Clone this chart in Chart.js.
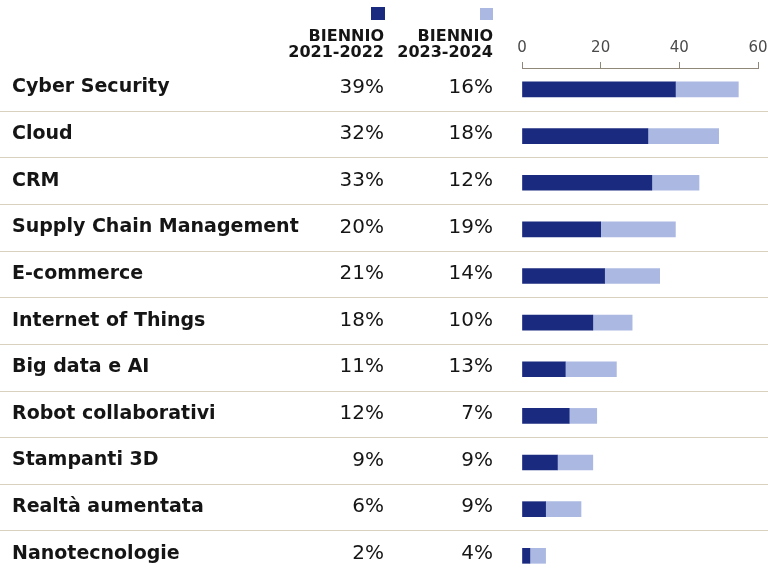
<!DOCTYPE html>
<html lang="it">
  <head>
    <meta charset="UTF-8" />
    <title>Tecnologie - bienni 2021-2022 e 2023-2024</title>
    <script src="https://cdn.jsdelivr.net/npm/chart.js@4.4.1/dist/chart.umd.min.js"></script>
    <style>
      html,
      body {
        margin: 0;
        padding: 0;
        background-color: #ffffff;
        overflow: hidden;
      }

      .chart-container {
        position: relative;
        width: 768px;
        height: 574px;
      }
    </style>
  </head>
  <body>
    <div class="chart-container">
      <canvas id="techChart"></canvas>
    </div>

    <script>
      // Data
      const categories = [
        "Cyber Security",
        "Cloud",
        "CRM",
        "Supply Chain Management",
        "E-commerce",
        "Internet of Things",
        "Big data e AI",
        "Robot collaborativi",
        "Stampanti 3D",
        "Realtà aumentata",
        "Nanotecnologie",
      ];
      const values2122 = [39, 32, 33, 20, 21, 18, 11, 12, 9, 6, 2];
      const values2324 = [16, 18, 12, 19, 14, 10, 13, 7, 9, 9, 4];
      const seriesHeaders = [
        ["BIENNIO", "2021-2022"],
        ["BIENNIO", "2023-2024"],
      ];
      const xTickValues = [0, 20, 40, 60];

      const darkBlue = "#1a2a7f";
      const lightBlue = "#abb8e2";
      const ruleColor = "#d9d1bd";
      const col1Right = 384;
      const col2Right = 493;

      // Draws the table part: rules, row labels, percentages, headers
      const tablePlugin = {
        id: "tablePlugin",
        beforeDatasetsDraw(chart) {
          const ctx = chart.ctx;
          const yScale = chart.scales.y;
          ctx.save();
          ctx.strokeStyle = ruleColor;
          ctx.lineWidth = 1.2;
          for (let i = 0; i < categories.length - 1; i++) {
            const py = Math.round(yScale.getPixelForValue(i + 0.5)) - 1.5;
            ctx.beginPath();
            ctx.moveTo(0, py);
            ctx.lineTo(chart.width, py);
            ctx.stroke();
          }
          ctx.restore();
        },
        afterDraw(chart) {
          const ctx = chart.ctx;
          const yScale = chart.scales.y;
          ctx.save();
          ctx.textBaseline = "middle";
          ctx.fillStyle = "#151515";

          categories.forEach((cat, i) => {
            const py = yScale.getPixelForValue(i) - 2;
            ctx.font = "bold 19px 'DejaVu Sans'";
            ctx.textAlign = "left";
            ctx.fillText(cat, 12, py);

            ctx.font = "20px 'DejaVu Sans'";
            ctx.textAlign = "right";
            ctx.fillText(values2122[i] + "%", col1Right, py);
            ctx.fillText(values2324[i] + "%", col2Right, py);
          });

          // column headers
          ctx.font = "bold 16px 'DejaVu Sans'";
          ctx.textAlign = "right";
          seriesHeaders.forEach((lines, k) => {
            const right = k === 0 ? col1Right : col2Right;
            ctx.fillText(lines[0], right, 37);
            ctx.fillText(lines[1], right, 53);
          });

          // legend squares
          ctx.fillStyle = darkBlue;
          ctx.fillRect(col1Right - 13, 7, 14, 13);
          ctx.fillStyle = lightBlue;
          ctx.fillRect(col2Right - 13, 8, 13, 12);
          ctx.restore();
        },
      };

      const ctx = document.getElementById("techChart").getContext("2d");

      const techChart = new Chart(ctx, {
        type: "bar",
        data: {
          datasets: [
            {
              label: seriesHeaders[0].join(" "),
              data: values2122.map((v, i) => ({ x: v, y: i })),
              backgroundColor: darkBlue,
              barThickness: 15,
              borderWidth: 0,
            },
            {
              label: seriesHeaders[1].join(" "),
              data: values2324.map((v, i) => ({ x: v, y: i })),
              backgroundColor: lightBlue,
              barThickness: 15,
              borderWidth: 0,
            },
          ],
        },
        options: {
          indexAxis: "y",
          responsive: true,
          maintainAspectRatio: false,
          animation: false,
          layout: {
            padding: { left: 522, right: 10, top: 0, bottom: 0 },
          },
          scales: {
            x: {
              type: "linear",
              position: "top",
              stacked: true,
              min: 0,
              max: 60,
              afterBuildTicks: (scale) => {
                scale.ticks = xTickValues.map((v) => ({ value: v }));
              },
              afterFit: (scale) => {
                scale.height = 68;
                scale.paddingRight = 0;
              },
              grid: {
                drawOnChartArea: false,
                drawTicks: true,
                tickLength: 6,
                color: "#8f8778",
              },
              border: { color: "#8f8778", width: 1 },
              ticks: {
                padding: 5,
                color: "#4a4a4a",
                font: { family: "'DejaVu Sans'", size: 15 },
              },
            },
            y: {
              type: "linear",
              display: false,
              reverse: true,
              stacked: true,
              offset: false,
              grace: 0,
              min: -0.46,
              max: 10.39,
            },
          },
          plugins: {
            legend: { display: false },
            tooltip: { enabled: false },
          },
        },
        plugins: [tablePlugin],
      });
    </script>
  </body>
</html>
